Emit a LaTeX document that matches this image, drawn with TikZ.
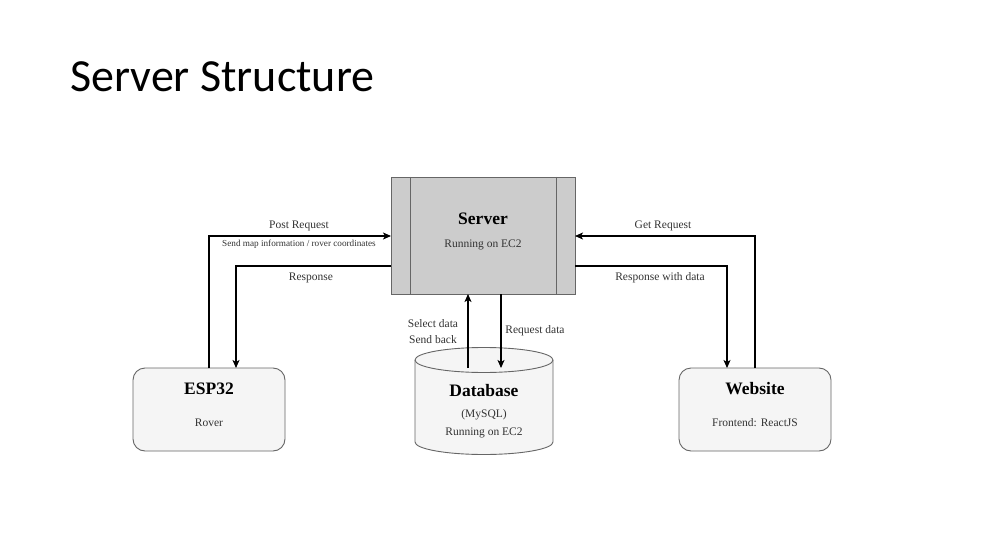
\documentclass[tikz,border=0pt]{standalone}
\usepackage{fontspec}
\setmainfont{Liberation Serif}
\newfontfamily\titlefont{Carlito}
\usetikzlibrary{arrows.meta}
\definecolor{srvfill}{HTML}{CCCCCC}
\definecolor{boxfill}{HTML}{F5F5F5}
\definecolor{edge}{HTML}{666666}
\begin{document}
\begin{tikzpicture}[x=1pt,y=-1pt,
  conn/.style={draw=black,line width=1.1pt,-{Stealth[length=8pt,width=7pt,inset=2pt]}},
  lbl/.style={font=\fontsize{11.5}{13}\selectfont,text=black!80,inner sep=0pt},
  smalllbl/.style={font=\fontsize{9.2}{11}\selectfont,text=black!80,inner sep=0pt},
  headtxt/.style={font=\bfseries\fontsize{17.5}{20}\selectfont,inner sep=0pt},
  subtxt/.style={font=\fontsize{11.5}{17.5}\selectfont,text=black!80,inner sep=0pt,align=center},
  card/.style={draw=edge,fill=boxfill,line width=0.9pt,rounded corners=12pt,minimum width=152pt,minimum height=83pt,inner sep=0pt},
  rim/.style={x radius=69pt,y radius=12.5pt}
]
\useasboundingbox[fill=white] (0,0) rectangle (1000,556);

% title
\node[anchor=west,inner sep=0pt,font=\titlefont\fontsize{46}{50}\selectfont] (title) at (70,77) {Server Structure};

% server block with side bars
\node[draw=edge,fill=srvfill,line width=0.9pt,minimum width=184pt,minimum height=117pt,inner sep=0pt] (srv) at (483,235.5) {};
\draw[edge,line width=0.9pt] (410,177) -- (410,294) (556,177) -- (556,294);
\node[headtxt] (srvhead) at (483,219) {Server};
\node[subtxt] (srvsub) at (483,245) {Running on EC2};

% client cards
\node[card] (esp) at (209,409.5) {};
\node[headtxt] (esphead) at (209,389) {ESP32};
\node[subtxt] (espsub) at (209,423) {Rover};

\node[card] (web) at (755,409.5) {};
\node[headtxt] (webhead) at (755,389) {Website};
\node[subtxt] (websub) at (755,423) {Frontend: ReactJS};

% database cylinder
\coordinate (db) at (484,401);
\draw[edge,fill=boxfill,line width=0.9pt]
  (415,360) -- (415,442) arc[start angle=180,end angle=360,rim]
  -- (553,360) arc[start angle=0,end angle=180,rim] -- cycle;
\draw[edge,line width=0.9pt] (415,360) arc[start angle=180,end angle=360,rim];
\node[headtxt] (dbhead) at (484,391) {Database};
\node[subtxt] (dbsub) at (484,423.5) {(MySQL)\\Running on EC2};

% connector end points
\coordinate (esp-out) at (209,368);
\coordinate (esp-in) at (236,368);
\coordinate (web-out) at (755,368);
\coordinate (web-in) at (727,368);
\coordinate (srv-l1) at (391,236);
\coordinate (srv-l2) at (391,266);
\coordinate (srv-r1) at (575,236);
\coordinate (srv-r2) at (575,266);
\coordinate (srv-b1) at (468,294);
\coordinate (srv-b2) at (501,294);
\coordinate (db-t1) at (468,368);
\coordinate (db-t2) at (501,368);

% connectors
\draw[conn] (esp-out) |- (srv-l1);
\draw[conn] (srv-l2) -| (esp-in);
\draw[conn] (web-out) |- (srv-r1);
\draw[conn] (srv-r2) -| (web-in);
\draw[conn] (db-t1) -- (srv-b1);
\draw[conn] (srv-b2) -- (db-t2);

% connector labels
\node[lbl] (l-post) at (299,226) {Post Request};
\node[smalllbl] (l-map) at (299,244) {Send map information / rover coordinates};
\node[lbl] (l-resp) at (311,278) {Response};
\node[lbl] (l-get) at (663,226) {Get Request};
\node[lbl] (l-respd) at (660,278) {Response with data};
\node[lbl] (l-sel) at (433,324) {Select data};
\node[lbl] (l-back) at (433,340) {Send back};
\node[lbl] (l-req) at (535,331) {Request data};
\end{tikzpicture}
\end{document}
